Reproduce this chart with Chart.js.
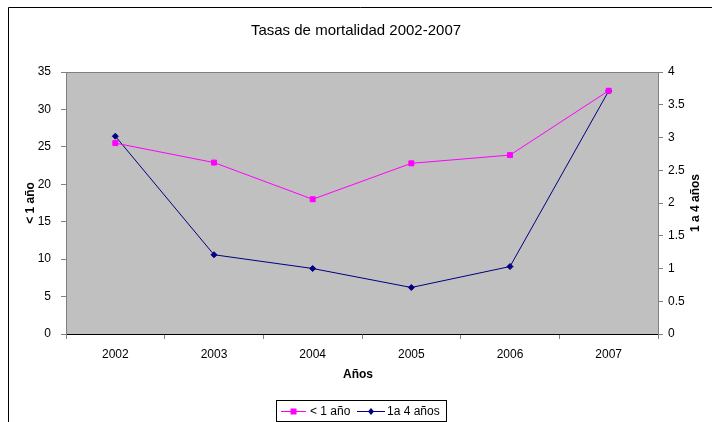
<!DOCTYPE html>
<html>
<head>
<meta charset="utf-8">
<script src="https://cdn.jsdelivr.net/npm/chart.js@4/dist/chart.umd.min.js"></script>
<style>
  html, body { margin: 0; padding: 0; background: #ffffff; }
  #wrap { width: 712px; height: 422px; position: relative; }
</style>
</head>
<body>
<div id="wrap"><canvas id="c" width="712" height="422"></canvas></div>
<script>
// Años del periodo
const years = ['2002', '2003', '2004', '2005', '2006', '2007'];
// Tasa de mortalidad en menores de 1 año (eje izquierdo)
const menores1 = [25.5, 22.9, 18.0, 22.8, 23.9, 32.5];
// Tasa de mortalidad de 1 a 4 años (eje derecho)
const de1a4 = [3.02, 1.21, 1.0, 0.71, 1.03, 3.71];

const chartTitle = 'Tasas de mortalidad 2002-2007';
const xTitle = 'Años';
const leftTitle = '< 1 año';
const rightTitle = '1 a 4 años';
const seriesNames = ['< 1 año', '1a 4 años'];

const FONT = '"Liberation Sans", Arial, sans-serif';

// Fondo gris del área de trazado, marco exterior, títulos y leyenda
const decor = {
  id: 'decor',
  beforeDraw(chart) {
    const { ctx, chartArea: a } = chart;
    ctx.save();
    ctx.fillStyle = '#ffffff';
    ctx.fillRect(0, 0, chart.width, chart.height);
    ctx.fillStyle = '#C0C0C0';
    ctx.fillRect(a.left, a.top, a.right - a.left, a.bottom - a.top);
    // borde superior del área de trazado
    ctx.strokeStyle = '#808080';
    ctx.lineWidth = 1;
    ctx.beginPath();
    ctx.moveTo(a.left, a.top + 0.5);
    ctx.lineTo(a.right, a.top + 0.5);
    ctx.stroke();
    // marco exterior (arriba e izquierda)
    ctx.strokeStyle = '#000000';
    ctx.beginPath();
    ctx.moveTo(8.5, 422);
    ctx.lineTo(8.5, 7.5);
    ctx.lineTo(712, 7.5);
    ctx.stroke();
    ctx.restore();
  },
  afterDraw(chart) {
    const { ctx, chartArea: a } = chart;
    const midY = (a.top + a.bottom) / 2;
    ctx.save();
    ctx.fillStyle = '#000000';
    ctx.textAlign = 'center';
    ctx.textBaseline = 'middle';
    // título
    ctx.font = '15px ' + FONT;
    ctx.fillText(chartTitle, 356, 31);
    // título del eje X
    ctx.font = 'bold 12px ' + FONT;
    ctx.fillText(xTitle, 358, 375);
    // títulos de los ejes Y
    ctx.save();
    ctx.translate(31, midY);
    ctx.rotate(-Math.PI / 2);
    ctx.fillText(leftTitle, 0, 0);
    ctx.restore();
    ctx.save();
    ctx.translate(696, midY);
    ctx.rotate(-Math.PI / 2);
    ctx.fillText(rightTitle, 0, 0);
    ctx.restore();

    // leyenda
    ctx.strokeStyle = '#000000';
    ctx.lineWidth = 1;
    ctx.strokeRect(276.5, 400.5, 170, 21);
    const ly = 411;
    const items = [
      { ds: chart.data.datasets[0], x0: 281, x1: 306, tx: 310 },
      { ds: chart.data.datasets[1], x0: 357, x1: 385, tx: 387 }
    ];
    ctx.font = '12px ' + FONT;
    ctx.textAlign = 'left';
    items.forEach(it => {
      ctx.strokeStyle = it.ds.borderColor;
      ctx.beginPath();
      ctx.moveTo(it.x0, ly + 0.5);
      ctx.lineTo(it.x1, ly + 0.5);
      ctx.stroke();
      const cx = (it.x0 + it.x1) / 2;
      ctx.fillStyle = it.ds.pointBackgroundColor;
      if (it.ds.pointStyle === 'rect') {
        ctx.fillRect(cx - 3, ly - 2.5, 6, 6);
      } else {
        ctx.beginPath();
        ctx.moveTo(cx, ly - 3);
        ctx.lineTo(cx + 3, ly + 0.5);
        ctx.lineTo(cx, ly + 4);
        ctx.lineTo(cx - 3, ly + 0.5);
        ctx.closePath();
        ctx.fill();
      }
      ctx.fillStyle = '#000000';
      ctx.fillText(it.ds.label, it.tx, ly + 0.5);
    });
    ctx.restore();
  }
};

new Chart(document.getElementById('c'), {
  type: 'line',
  data: {
    labels: years,
    datasets: [
      {
        label: seriesNames[0],
        data: menores1,
        yAxisID: 'y',
        borderColor: '#FF00FF',
        backgroundColor: '#FF00FF',
        pointBackgroundColor: '#FF00FF',
        pointBorderColor: '#FF00FF',
        pointStyle: 'rect',
        pointRadius: 3.5,
        borderWidth: 1,
        tension: 0
      },
      {
        label: seriesNames[1],
        data: de1a4,
        yAxisID: 'y1',
        borderColor: '#000080',
        backgroundColor: '#000080',
        pointBackgroundColor: '#000080',
        pointBorderColor: '#000080',
        pointStyle: 'rectRot',
        pointRadius: 3,
        borderWidth: 1,
        tension: 0
      }
    ]
  },
  options: {
    responsive: false,
    animation: false,
    devicePixelRatio: 1,
    layout: { padding: { top: 72, left: 0, right: 0, bottom: 0 } },
    plugins: {
      legend: { display: false },
      title: { display: false },
      tooltip: { enabled: false }
    },
    scales: {
      x: {
        offset: true,
        grid: { offset: true, drawOnChartArea: false, drawTicks: true, tickLength: 5, color: '#808080' },
        border: { color: '#000000', width: 1 },
        ticks: { color: '#000000', font: { family: FONT, size: 12 }, padding: 8, maxRotation: 0 },
        afterFit(s) { s.height = 88; }
      },
      y: {
        position: 'left',
        min: 0, max: 35,
        grid: { drawOnChartArea: false, drawTicks: true, tickLength: 5, color: '#808080' },
        border: { color: '#808080', width: 1 },
        ticks: { stepSize: 5, color: '#000000', font: { family: FONT, size: 12 }, padding: 10 },
        afterFit(s) { s.width = 66; }
      },
      y1: {
        position: 'right',
        min: 0, max: 4,
        grid: { drawOnChartArea: false, drawTicks: true, tickLength: 5, color: '#808080' },
        border: { color: '#808080', width: 1 },
        ticks: {
          stepSize: 0.5, color: '#000000', font: { family: FONT, size: 12 }, padding: 5,
          callback: v => String(Number(v))
        },
        afterFit(s) { s.width = 54; }
      }
    }
  },
  plugins: [decor]
});
</script>
</body>
</html>
